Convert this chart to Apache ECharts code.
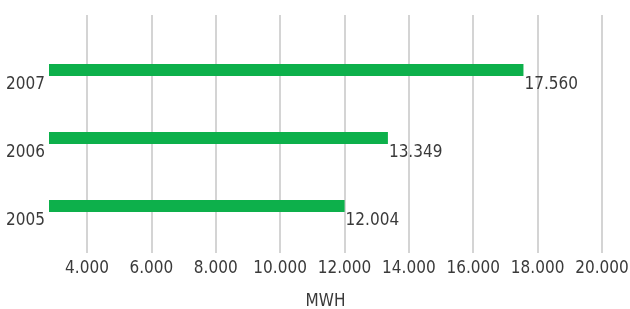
<!DOCTYPE html>
<html>
<head>
<meta charset="utf-8">
<script src="https://cdn.jsdelivr.net/npm/echarts@6/dist/echarts.min.js"></script>
<style>
  html, body { margin: 0; padding: 0; background: #fff; }
  #chart { width: 630px; height: 309px; }
</style>
</head>
<body>
<div id="chart"></div>
<script>
const years = ['2005', '2006', '2007'];
const mwh = [12004, 13349, 17560];
const xTicks = [4000, 6000, 8000, 10000, 12000, 14000, 16000, 18000, 20000];

const fmt = v => String(v).replace(/\B(?=(\d{3})+(?!\d))/g, '.');
const font = '"Liberation Sans Narrow", "DejaVu Sans Condensed", "Liberation Sans", sans-serif';
const textColor = '#3a3a3a';
const fs = 17;

const chart = echarts.init(document.getElementById('chart'));
chart.setOption({
  animation: false,
  grid: [
    { left: 49, right: 28, top: 15, bottom: 56, outerBoundsMode: 'none' },   // gridlines + x labels
    { left: 49, right: 28, top: 36, bottom: 69, outerBoundsMode: 'none' }    // bars
  ],
  xAxis: [{
    gridIndex: 0, type: 'value', min: 2820, max: 20000,
    name: 'MWH', nameLocation: 'middle', nameGap: 40,
    nameTextStyle: { fontFamily: font, fontSize: fs, color: textColor },
    axisLine: { show: false },
    axisTick: { show: false, customValues: xTicks },
    axisLabel: { customValues: xTicks, formatter: fmt, margin: 7, fontFamily: font, fontSize: fs, color: textColor },
    splitLine: { show: true, lineStyle: { color: '#c6c6c6', width: 1.5 } }
  }, {
    gridIndex: 1, type: 'value', min: 2820, max: 20000, show: false,
    splitLine: { show: false }
  }],
  yAxis: [{
    gridIndex: 0, type: 'category', data: years, show: false
  }, {
    gridIndex: 1, type: 'category', data: years,
    axisLine: { show: false }, axisTick: { show: false },
    axisLabel: { margin: 4, verticalAlign: 'top', padding: [6, 0, 0, 0], fontFamily: font, fontSize: fs, color: textColor }
  }],
  series: [{
    type: 'bar', xAxisIndex: 1, yAxisIndex: 1, data: mwh, barWidth: 12,
    itemStyle: { color: '#0db04b' },
    label: {
      show: true, position: 'right', distance: 1, offset: [0, 15],
      formatter: p => fmt(p.value), fontFamily: font, fontSize: fs, color: textColor
    }
  }]
});
</script>
</body>
</html>
